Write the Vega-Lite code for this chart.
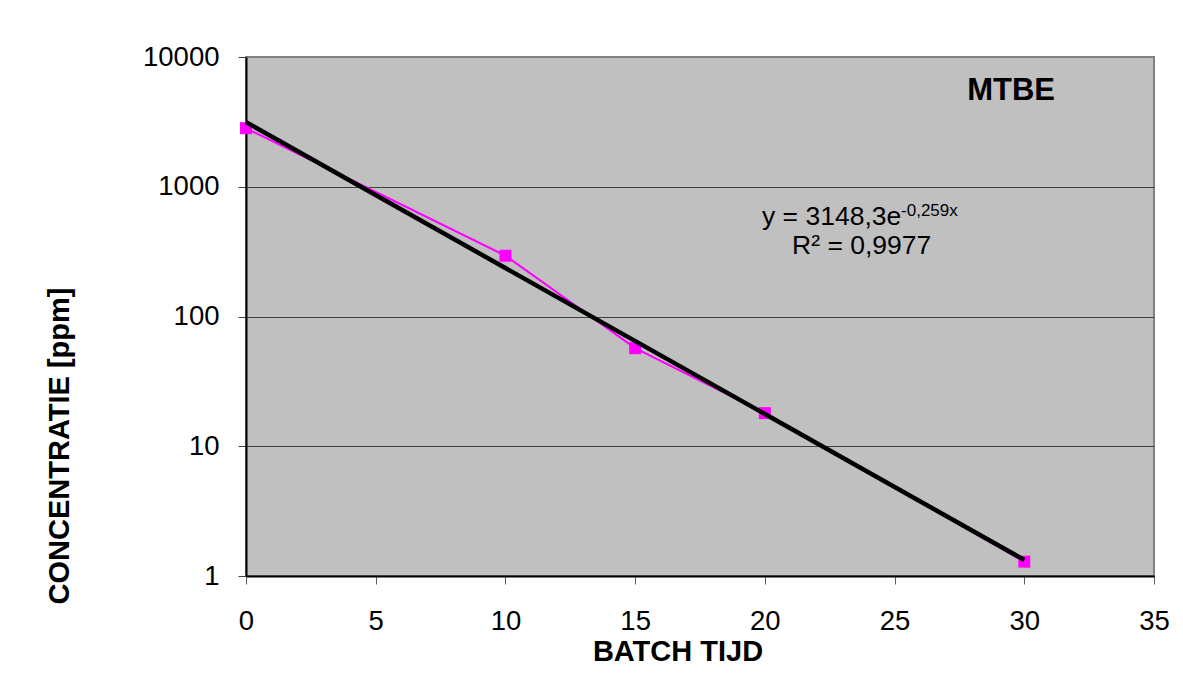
{
  "$schema": "https://vega.github.io/schema/vega-lite/v6.json",
  "width": 908,
  "height": 519,
  "autosize": {"type": "none"},
  "padding": {"left": 246, "top": 57, "right": 29, "bottom": 124},
  "background": "white",
  "config": {
    "font": "Liberation Sans",
    "view": {"fill": "#C0C0C0", "stroke": "#808080", "strokeWidth": 2}
  },
  "datasets": {
    "meas": [
      {"t": 0, "c": 2830},
      {"t": 10, "c": 294},
      {"t": 15, "c": 57},
      {"t": 20, "c": 18},
      {"t": 30, "c": 1.29}
    ],
    "trend": [
      {"t": 0, "c": 3148.3},
      {"t": 30, "c": 1.33}
    ],
    "notes": [
      {"role": "name", "t": 29.49, "c": 4667, "label": "MTBE"},
      {"role": "eq", "t": 19.89, "c": 507, "label": "y = 3148,3e"},
      {"role": "sup", "t": 25.25, "c": 600, "label": "-0,259x"},
      {"role": "r2", "t": 21.05, "c": 303, "label": "R² = 0,9977"}
    ]
  },
  "encoding": {
    "x": {
      "field": "t", "type": "quantitative",
      "scale": {"domain": [0, 35], "nice": false},
      "axis": {
        "values": [0, 5, 10, 15, 20, 25, 30, 35],
        "grid": false,
        "labelFlush": false,
        "labelOverlap": false,
        "title": "BATCH TIJD",
        "titleFont": "Liberation Sans", "titleFontSize": 29, "titleFontWeight": "bold", "titleColor": "#000000",
        "titleX": 431.5, "titleY": 84, "titleAlign": "center", "titleBaseline": "alphabetic",
        "labelFontSize": 27.5, "labelColor": "#000000", "labelPadding": 23, "labelBaseline": "top",
        "tickSize": 8, "tickColor": "#606060", "tickWidth": 1,
        "domainColor": "#000000", "domainWidth": 2
      }
    },
    "y": {
      "field": "c", "type": "quantitative",
      "scale": {"type": "log", "domain": [1, 10000], "nice": false},
      "axis": {
        "values": [1, 10, 100, 1000, 10000],
        "format": "d",
        "grid": true,
        "labelFlush": false,
        "labelOverlap": false,
        "gridColor": {"condition": {"test": "datum.value >= 10000", "value": "#808080"}, "value": "#404040"},
        "gridWidth": 1,
        "title": "CONCENTRATIE [ppm]",
        "titleFont": "Liberation Sans", "titleFontSize": 29, "titleFontWeight": "bold", "titleColor": "#000000",
        "titleAngle": 270, "titleX": -178, "titleY": 388.5, "titleAlign": "center", "titleBaseline": "alphabetic",
        "labelFontSize": 27.5, "labelColor": "#000000", "labelPadding": 19,
        "tickSize": 8, "tickColor": "#404040", "tickWidth": 1,
        "domainColor": "#000000", "domainWidth": 2
      }
    }
  },
  "layer": [
    {
      "data": {"name": "meas"},
      "mark": {"type": "line", "color": "#FF00FF", "strokeWidth": 2,
        "point": {"shape": "square", "size": 144, "filled": true, "color": "#FF00FF", "opacity": 1}}
    },
    {
      "data": {"name": "trend"},
      "mark": {"type": "line", "color": "#000000", "strokeWidth": 4.5}
    },
    {
      "data": {"name": "notes"},
      "transform": [{"filter": "datum.role == 'name'"}],
      "mark": {"type": "text", "align": "center", "baseline": "alphabetic", "fontSize": 31, "fontWeight": "bold", "color": "#000000"},
      "encoding": {"text": {"field": "label"}}
    },
    {
      "data": {"name": "notes"},
      "transform": [{"filter": "datum.role == 'eq' || datum.role == 'r2'"}],
      "mark": {"type": "text", "align": "left", "baseline": "alphabetic", "fontSize": 26.5, "color": "#000000"},
      "encoding": {"text": {"field": "label"}}
    },
    {
      "data": {"name": "notes"},
      "transform": [{"filter": "datum.role == 'sup'"}],
      "mark": {"type": "text", "align": "left", "baseline": "alphabetic", "fontSize": 17, "color": "#000000"},
      "encoding": {"text": {"field": "label"}}
    }
  ]
}
